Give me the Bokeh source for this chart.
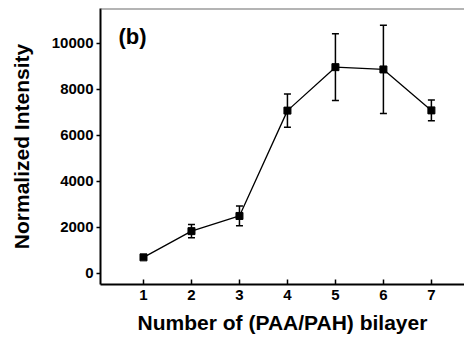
from bokeh.plotting import figure
from bokeh.models import Range1d, Span, Label, Whisker, ColumnDataSource, FixedTicker, TeeHead
from bokeh.embed import file_html
from bokeh.resources import INLINE

bilayers = [1, 2, 3, 4, 5, 6, 7]
intensity = [700, 1840, 2500, 7080, 8970, 8870, 7090]
err = [40, 290, 430, 725, 1450, 1920, 450]
x_ticks = [1, 2, 3, 4, 5, 6, 7]
y_ticks = [0, 2000, 4000, 6000, 8000, 10000]
panel_label = "(b)"
x_title = "Number of (PAA/PAH) bilayer"
y_title = "Normalized Intensity"

FONT = "Liberation Sans"

src = ColumnDataSource(dict(
    x=bilayers, y=intensity,
    lo=[v - e for v, e in zip(intensity, err)],
    hi=[v + e for v, e in zip(intensity, err)],
))

p = figure(width=464, height=339, output_backend="svg", toolbar_location=None,
           x_range=Range1d(0.104, 7.69), y_range=Range1d(-480, 11520),
           min_border_left=100, min_border_right=0, min_border_top=8, min_border_bottom=55)
p.outline_line_color = None
p.grid.visible = False
p.background_fill_color = "white"

p.line("x", "y", source=src, line_color="black", line_width=1.3)
w = Whisker(base="x", lower="lo", upper="hi", source=src, line_color="black", line_width=1.5,
            upper_head=TeeHead(size=7, line_color="black", line_width=1.5),
            lower_head=TeeHead(size=7, line_color="black", line_width=1.5))
p.add_layout(w)
p.scatter("x", "y", source=src, marker="square", size=7, fill_color="black", line_color="black")

p.add_layout(Span(location=11520, dimension="width", line_color="#6a6a6a", line_width=2))

p.add_layout(Label(x=0.48, y=9780, text=panel_label, text_font=FONT, text_font_style="bold",
                   text_font_size="22px", text_color="black"))

xa = p.xaxis[0]
xa.ticker = FixedTicker(ticks=x_ticks)
xa.axis_label = x_title
xa.axis_line_width = 2
xa.axis_line_color = "black"
xa.major_tick_line_color = "black"
xa.major_tick_in = 5
xa.major_tick_out = 0
xa.major_tick_line_width = 1.5
xa.minor_tick_line_color = None
xa.major_label_standoff = 5
xa.axis_label_standoff = 8
xa.major_label_text_font = FONT
xa.major_label_text_font_style = "bold"
xa.major_label_text_font_size = "15px"
xa.major_label_text_color = "black"
xa.axis_label_text_font = FONT
xa.axis_label_text_font_style = "bold"
xa.axis_label_text_font_size = "21px"
xa.axis_label_text_color = "black"

ya = p.yaxis[0]
ya.ticker = FixedTicker(ticks=y_ticks)
ya.axis_label = y_title
ya.axis_line_width = 2
ya.axis_line_color = "black"
ya.major_tick_line_color = "black"
ya.major_tick_in = 0
ya.major_tick_out = 4
ya.major_tick_line_width = 1.5
ya.minor_tick_line_color = None
ya.major_label_standoff = 3
ya.axis_label_standoff = 16
ya.major_label_text_font = FONT
ya.major_label_text_font_style = "bold"
ya.major_label_text_font_size = "15px"
ya.major_label_text_color = "black"
ya.axis_label_text_font = FONT
ya.axis_label_text_font_style = "bold"
ya.axis_label_text_font_size = "21px"
ya.axis_label_text_color = "black"

open("out.html", "w").write(file_html(p, INLINE))
